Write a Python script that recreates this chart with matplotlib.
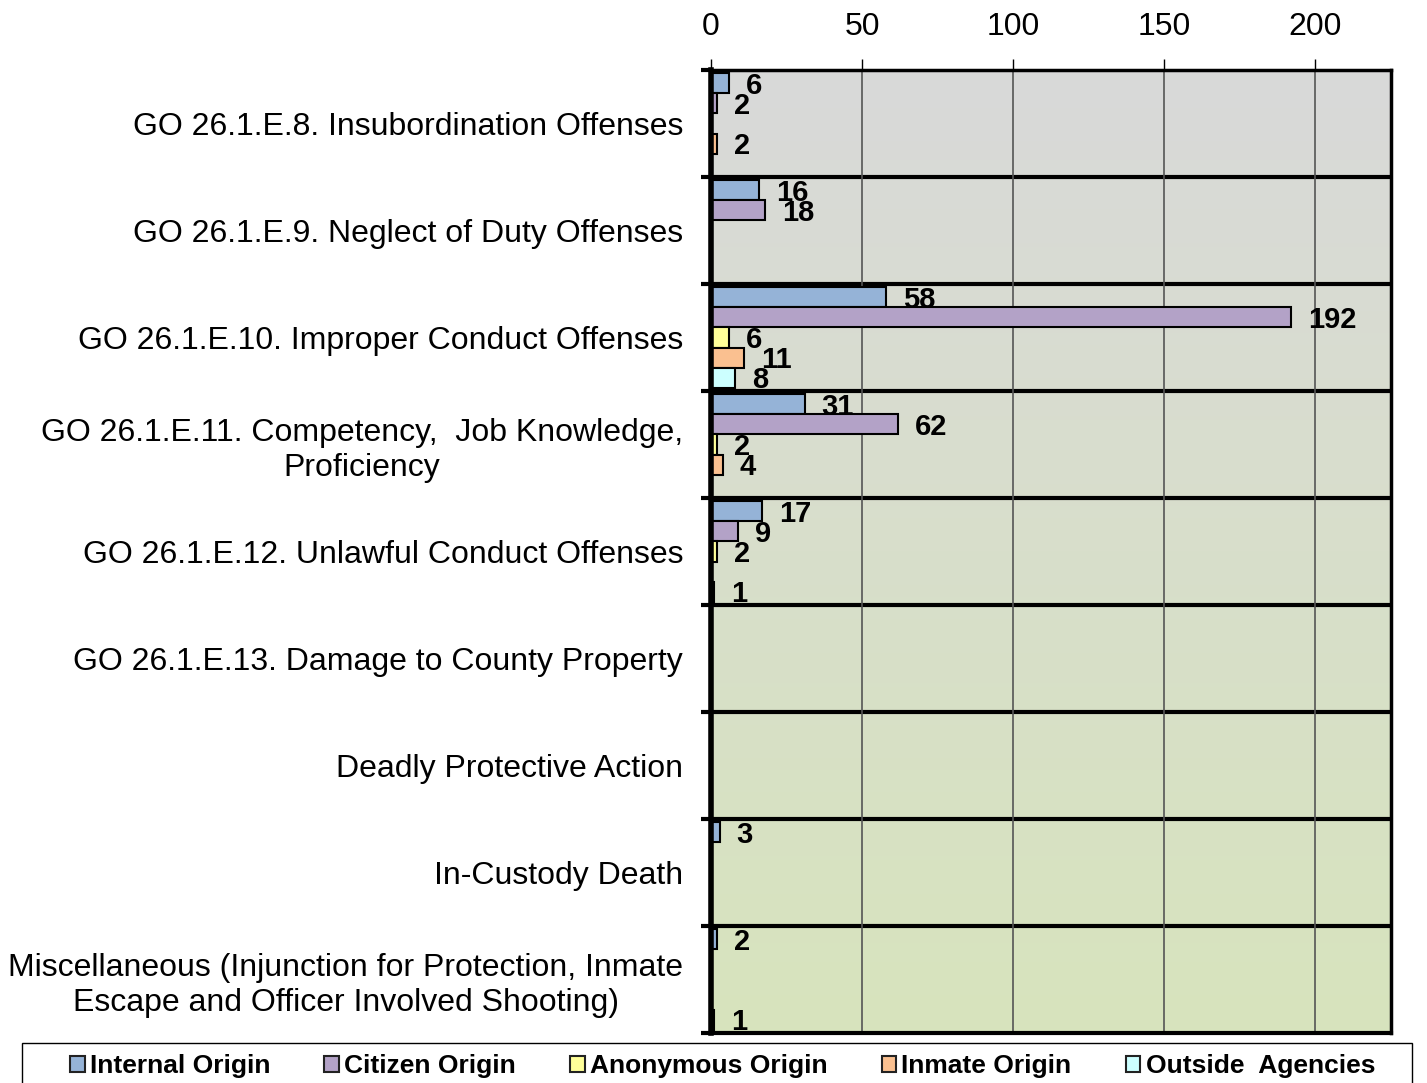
import numpy as np
import matplotlib
matplotlib.use("Agg")
import matplotlib.pyplot as plt
from matplotlib.colors import LinearSegmentedColormap
from matplotlib.patches import Patch, Rectangle

plt.rcParams["font.family"] = ["Liberation Sans", "DejaVu Sans"]

categories = [
    "GO 26.1.E.8. Insubordination Offenses",
    "GO 26.1.E.9. Neglect of Duty Offenses",
    "GO 26.1.E.10. Improper Conduct Offenses",
    "GO 26.1.E.11. Competency,  Job Knowledge,\nProficiency",
    "GO 26.1.E.12. Unlawful Conduct Offenses",
    "GO 26.1.E.13. Damage to County Property",
    "Deadly Protective Action",
    "In-Custody Death",
    "Miscellaneous (Injunction for Protection, Inmate\nEscape and Officer Involved Shooting)",
]
series_names = ["Internal Origin", "Citizen Origin", "Anonymous Origin",
                "Inmate Origin", "Outside  Agencies"]
internal = [6, 16, 58, 31, 17, 0, 0, 3, 2]
citizen = [2, 18, 192, 62, 9, 0, 0, 0, 0]
anonymous = [0, 0, 6, 2, 2, 0, 0, 0, 0]
inmate = [2, 0, 11, 4, 0, 0, 0, 0, 0]
outside = [0, 0, 8, 0, 1, 0, 0, 0, 1]
colors = ["#95B3D7", "#B3A2C7", "#FFFF99", "#FAC090", "#CCFFFF"]
xticks = [0, 50, 100, 150, 200]

W, H = 1427, 1083
fig = plt.figure(figsize=(W / 100, H / 100), dpi=100)
ax = fig.add_axes([711 / W, 1 - 1033 / H, 680 / W, 963 / H])

# gradient background (gray at top -> pale green at bottom)
cmap = LinearSegmentedColormap.from_list("bg", ["#D9D9D9", "#D7E4BD"])
grad = np.linspace(0, 1, 256).reshape(-1, 1)
ax.imshow(grad, cmap=cmap, aspect="auto", extent=[0, 225, 9, 0], zorder=0)

n = len(categories)
bar_h = 0.187
data = [internal, citizen, anonymous, inmate, outside]
for k, (vals, col) in enumerate(zip(data, colors)):
    ys = np.arange(n) + 0.5 + (k - 2) * bar_h
    ax.barh(ys, vals, height=bar_h, color=col, edgecolor="black",
            linewidth=1.5, zorder=3)
    for y, v in zip(ys, vals):
        if v > 0:
            ax.annotate(str(v), xy=(v, y), xytext=(12, -2),
                        textcoords="offset points", ha="left", va="center",
                        fontsize=21, fontweight="bold", zorder=4)

# thick separators between categories
for b in range(1, n):
    ax.axhline(b, color="black", linewidth=3, zorder=2)

ax.set_xlim(0, 225)
ax.set_ylim(9, 0)
ax.xaxis.tick_top()
ax.set_xticks(xticks)
ax.tick_params(axis="x", labelsize=23, length=8, width=1, pad=12,
               colors="black")
ax.xaxis.grid(True, color="#555555", linewidth=1.2, zorder=1)
ax.set_axisbelow(False)

ax.set_yticks(np.arange(n) + 0.5)
ax.set_yticklabels(categories, fontsize=23, multialignment="center")
ax.tick_params(axis="y", which="major", length=0, pad=20)
ax.set_yticks(np.arange(n + 1), minor=True)
ax.tick_params(axis="y", which="minor", length=7, width=3, direction="out")

ax.spines["left"].set_linewidth(4)
ax.spines["top"].set_linewidth(2.5)
ax.spines["right"].set_linewidth(2.5)
ax.spines["bottom"].set_linewidth(3)
for s in ax.spines.values():
    s.set_zorder(5)

# legend box frame drawn separately, entries spread inside it
fig.patches.append(Rectangle((22 / W, -0.01), 1390 / W, 1 - 1043 / H + 0.01,
                             transform=fig.transFigure, facecolor="white",
                             edgecolor="black", linewidth=1))
handles = [Patch(facecolor=c, edgecolor="#222222", linewidth=1.5) for c in colors]
fig.legend(handles, series_names, loc="center left",
           bbox_to_anchor=(70 / W, 1 - 1066 / H, 1305 / W, 0),
           mode="expand", ncol=5, frameon=False,
           handlelength=0.55, handleheight=0.55, handletextpad=0.2,
           borderaxespad=0, borderpad=0,
           prop={"weight": "bold", "size": 19})

fig.savefig("out.png", dpi=100)
